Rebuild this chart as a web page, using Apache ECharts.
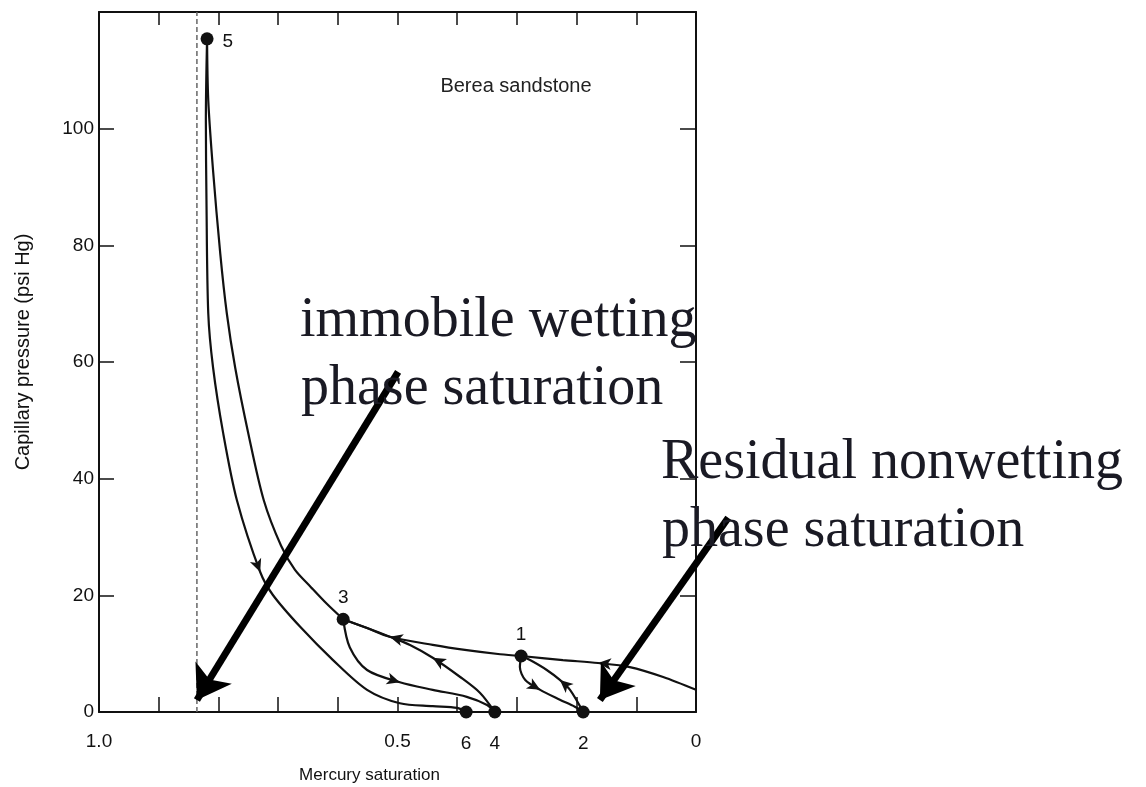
<!DOCTYPE html>
<html><head><meta charset="utf-8">
<script src="https://cdn.jsdelivr.net/npm/echarts@6/dist/echarts.min.js"></script>
<style>html,body{margin:0;padding:0;background:#fff}#c{width:1146px;height:787px}</style>
</head><body><div id="c"></div>
<script>
// ---- data (mercury saturation, capillary pressure psi Hg) ----
const xTickLabels = {1: '1.0', 0.5: '0.5', 0: '0'};
const yTickValues = [0, 20, 40, 60, 80, 100];

// primary drainage: S=0 -> point 1
const drainage01 = [[0,3.8],[0.055,6.0],[0.111,7.7],[0.164,8.4],[0.223,8.9],[0.293,9.6]];
// drainage: point 1 -> point 3
const drainage13 = [[0.293,9.6],[0.328,9.9],[0.384,10.6],[0.441,11.5],[0.513,12.9],[0.551,14.4],[0.591,15.9]];
// drainage: point 3 -> point 5
const drainage35 = [[0.591,15.9],[0.618,18.5],[0.645,21.4],[0.672,24.4],[0.695,28.5],[0.724,36.3],[0.750,47.8],[0.772,59.1],[0.786,68.4],[0.797,78.7],[0.809,92.9],[0.817,104.9],[0.819,115.4]];
// imbibition: point 5 -> point 6
const imbibition56 = [[0.819,115.4],[0.821,101.5],[0.820,87.8],[0.817,68.4],[0.809,59.1],[0.792,47.8],[0.769,36.3],[0.730,24.0],[0.709,20.1],[0.663,14.6],[0.608,8.9],[0.551,3.8],[0.496,1.5],[0.441,1.0],[0.400,0.7],[0.385,0]];
// imbibition: point 3 -> point 4
const imbibition34 = [[0.591,15.9],[0.580,11.1],[0.551,7.2],[0.496,5.1],[0.441,3.8],[0.384,2.6],[0.350,1.2],[0.337,0]];
// re-drainage: point 4 -> point 3
const drainage43 = [[0.337,0],[0.362,3.3],[0.395,6.0],[0.441,9.3],[0.479,11.5],[0.513,12.9],[0.551,14.4],[0.591,15.9]];
// imbibition: point 1 -> point 2
const imbibition12 = [[0.293,9.6],[0.295,7.7],[0.286,5.5],[0.261,3.8],[0.228,2.1],[0.203,0.9],[0.189,0]];
// re-drainage: point 2 -> point 1
const drainage21 = [[0.189,0],[0.211,3.8],[0.228,5.5],[0.250,7.2],[0.278,8.9],[0.293,9.6]];

// numbered points
const pointNames = ['1','2','3','4','5','6'];
const pointS = [0.293,0.189,0.591,0.337,0.819,0.385];
const pointPc = [9.6,0,15.9,0,115.4,0];

// immobile wetting phase saturation (dashed line)
const immobileS = 0.836;

// direction arrows on curves
const curveArrowS = [0.730,0.496,0.441,0.513,0.164,0.261,0.228];
const curveArrowPc = [24.0,5.1,9.3,12.9,8.4,3.8,5.5];
const curveArrowDir = [201,253,60,75,85,240,49];

// annotation arrows (data coords)
const annotFrom = [[0.499,58.3],[-0.054,33.3]];
const annotTo = [[0.836,2.06],[0.161,2.06]];

// ---- styles ----
const labelPos = {'1':'top','2':'bottom','3':'top','4':'bottom','5':'right','6':'bottom'};
const ink = '#111';
const sans = 'Liberation Sans, Arial, sans-serif';
const serif = 'Liberation Serif, Times New Roman, serif';

const curveSeries = [drainage01, drainage13, drainage35, imbibition56, imbibition34, drainage43, imbibition12, drainage21].map(d => ({
  type: 'line', data: d, smooth: 0.3, symbol: 'none', z: 3,
  lineStyle: {color: ink, width: 2.2}
}));

const axisCommonX = {
  type: 'value', min: 0, max: 1, interval: 0.1, inverse: true,
  axisLine: {show: true, onZero: false, lineStyle: {color: ink, width: 2}},
  splitLine: {show: false}
};
const axisCommonY = {
  type: 'value', min: 0, max: 120, interval: 20,
  axisLine: {show: true, onZero: false, lineStyle: {color: ink, width: 2}},
  splitLine: {show: false}
};

const chart = echarts.init(document.getElementById('c'));
chart.setOption({
  animation: false,
  backgroundColor: '#fff',
  grid: {left: 99, right: 450, top: 12, bottom: 75, containLabel: false, outerBoundsMode: 'none'},
  xAxis: [
    Object.assign({}, axisCommonX, {
      position: 'bottom',
      axisTick: {inside: true, length: 15, lineStyle: {color: ink, width: 1.5}},
      axisLabel: {
        margin: 20, color: ink, fontSize: 19, fontFamily: sans,
        formatter: v => { const k = Math.round(v * 10) / 10; return xTickLabels[k] !== undefined ? xTickLabels[k] : ''; }
      },
      name: 'Mercury saturation', nameLocation: 'middle', nameGap: 55,
      nameTextStyle: {color: ink, fontSize: 17, fontFamily: sans, padding: [0, 56, 0, 0]}
    }),
    Object.assign({}, axisCommonX, {
      position: 'top',
      axisTick: {inside: true, length: 13, lineStyle: {color: ink, width: 1.5}},
      axisLabel: {show: false}
    })
  ],
  yAxis: [
    Object.assign({}, axisCommonY, {
      position: 'left',
      axisTick: {inside: true, length: 15, lineStyle: {color: ink, width: 1.5}},
      axisLabel: {
        margin: 5, color: ink, fontSize: 19, fontFamily: sans,
        formatter: v => yTickValues.indexOf(v) >= 0 ? String(v) : ''
      },
      name: 'Capillary pressure (psi Hg)', nameLocation: 'middle', nameGap: 66,
      nameTextStyle: {color: ink, fontSize: 20, fontFamily: sans, padding: [0, 0, 0, 20]}
    }),
    Object.assign({}, axisCommonY, {
      position: 'right',
      axisTick: {inside: true, length: 16, lineStyle: {color: ink, width: 1.5}},
      axisLabel: {show: false}
    })
  ],
  series: [
    {
      type: 'line', data: [[immobileS, 0], [immobileS, 120]], symbol: 'none', z: 2,
      lineStyle: {color: '#666', width: 1.5, type: [5, 3]}
    },
    ...curveSeries,
    {
      type: 'scatter', z: 5, symbol: 'circle', symbolSize: 13,
      itemStyle: {color: ink, opacity: 1},
      data: pointNames.map((n, i) => ({
        value: [pointS[i], pointPc[i]], name: n,
        label: {
          show: true, formatter: n, position: labelPos[n],
          distance: labelPos[n] === 'bottom' ? 16 : (labelPos[n] === 'right' ? 9 : 5),
          offset: labelPos[n] === 'right' ? [0, 3] : [0, 0],
          color: ink, opacity: 1, fontSize: 19, fontFamily: sans
        }
      }))
    },
    {
      type: 'scatter', z: 4, symbol: 'arrow', symbolSize: [9, 13],
      itemStyle: {color: ink, opacity: 1},
      data: curveArrowS.map((s, i) => ({value: [s, curveArrowPc[i]], symbolRotate: curveArrowDir[i]}))
    },
    {
      type: 'lines', coordinateSystem: 'cartesian2d', z: 10, clip: false,
      symbol: ['none', 'arrow'], symbolSize: 32,
      lineStyle: {color: '#000', width: 7, opacity: 1, curveness: 0},
      data: annotFrom.map((f, i) => ({coords: [f, annotTo[i]]}))
    }
  ],
  graphic: [
    {type: 'text', x: 516, y: 86, z: 20, style: {text: 'Berea sandstone', align: 'center', verticalAlign: 'middle', fill: '#222', font: '20px ' + sans}},
    {type: 'text', x: 300, y: 293, z: 20, style: {text: 'immobile wetting', align: 'left', verticalAlign: 'alphabetic', fill: '#1a1a24', font: '56px ' + serif}},
    {type: 'text', x: 301, y: 361, z: 20, style: {text: 'phase saturation', align: 'left', verticalAlign: 'alphabetic', fill: '#1a1a24', font: '56px ' + serif}},
    {type: 'text', x: 661, y: 435, z: 20, style: {text: 'Residual nonwetting', align: 'left', verticalAlign: 'alphabetic', fill: '#1a1a24', font: '56px ' + serif}},
    {type: 'text', x: 662, y: 503, z: 20, style: {text: 'phase saturation', align: 'left', verticalAlign: 'alphabetic', fill: '#1a1a24', font: '56px ' + serif}}
  ]
});
</script>
</body></html>
